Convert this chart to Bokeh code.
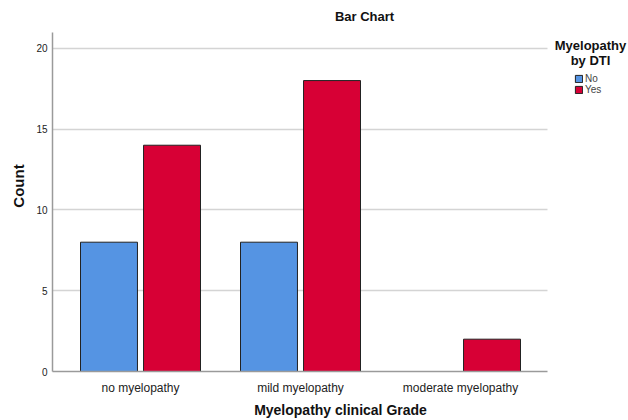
from bokeh.plotting import figure
from bokeh.models import ColumnDataSource, Range1d, Legend, LegendItem, Label, FixedTicker
from bokeh.embed import file_html
from bokeh.resources import INLINE

categories = ["no myelopathy", "mild myelopathy", "moderate myelopathy"]
count_no = [8, 8, 0]
count_yes = [14, 18, 2]
series_names = ["No", "Yes"]
colors = ["#5594e3", "#d70035"]
y_ticks = [0, 5, 10, 15, 20]

pos = list(range(len(categories)))
off = 0.197
bw = 0.356
src_no = ColumnDataSource(dict(x=[i - off for i, v in zip(pos, count_no) if v > 0],
                               val=[v for v in count_no if v > 0]))
src_yes = ColumnDataSource(dict(x=[i + off for i in pos], val=count_yes))

W, H = 628, 420
FL, FB = 52, 373
PX_X = 160.0   # px per category
PX_Y = 16.25   # px per count
x0 = -88 / PX_X
x1 = x0 + (W - FL) / PX_X
xr_end_axis = x0 + (547 - FL) / PX_X
y1 = FB / PX_Y
y_axis_top = (FB - 32) / PX_Y

p = figure(width=W, height=H, output_backend="svg", toolbar_location=None,
           x_range=Range1d(x0, x1), y_range=Range1d(0, y1))
p.min_border_left = FL
p.min_border_right = 0
p.min_border_top = 0
p.min_border_bottom = H - FB
p.outline_line_color = None
p.background_fill_color = "white"
p.title = None

r_no = p.vbar(x="x", top="val", width=bw, source=src_no,
              fill_color=colors[0], line_color="#222222", line_width=1)
r_yes = p.vbar(x="x", top="val", width=bw, source=src_yes,
               fill_color=colors[1], line_color="#222222", line_width=1)

p.xgrid.grid_line_color = None
p.ygrid.grid_line_color = "#d4d4d4"
p.ygrid.grid_line_width = 1.5
p.ygrid.cross_bounds = (x0, xr_end_axis)
p.yaxis.ticker = FixedTicker(ticks=y_ticks)
p.xaxis.ticker = FixedTicker(ticks=pos)
p.xaxis.major_label_overrides = {i: c for i, c in zip(pos, categories)}
p.xaxis.bounds = (x0, xr_end_axis)
p.yaxis.bounds = (0, y_axis_top)

for ax in (p.xaxis[0], p.yaxis[0]):
    ax.axis_line_color = "#9a9a9a"
    ax.axis_line_width = 1.5
    ax.major_tick_line_color = None
    ax.minor_tick_line_color = None
    ax.major_tick_out = 0
    ax.major_tick_in = 0
    ax.minor_tick_out = 0
    ax.minor_tick_in = 0
    ax.major_label_text_font = "Liberation Sans"
    ax.major_label_text_color = "#222222"
    ax.axis_label_text_font = "Liberation Sans"
    ax.axis_label_text_font_style = "bold"
    ax.axis_label_text_color = "#111111"

p.yaxis.major_label_text_font_size = "10px"
p.yaxis.major_label_standoff = 5
p.xaxis.major_label_text_font_size = "12px"
p.xaxis.major_label_standoff = 9
p.yaxis.axis_label = "Count"
p.yaxis.axis_label_text_font_size = "15px"
p.yaxis.axis_label_standoff = 6
p.xaxis.axis_label = "Myelopathy clinical Grade"
p.xaxis.axis_label_text_font_size = "14px"
p.xaxis.axis_label_standoff = 4

# Labels: screen coords relative to frame (x from left, y from bottom)
def lab(x, y, **kw):
    return Label(x=x - FL, y=FB - y, x_units="screen", y_units="screen",
                 text_font="Liberation Sans", text_color="#111111", **kw)

p.add_layout(lab(364, 18, text="Bar Chart", text_font_style="bold", text_font_size="13px",
                 text_align="center", text_baseline="middle"))
p.add_layout(lab(590, 39, text="Myelopathy\nby DTI", text_font_style="bold", text_font_size="13px",
                 text_align="center", text_baseline="top", text_line_height=1.0))

legend = Legend(items=[LegendItem(label=series_names[0], renderers=[r_no]),
                       LegendItem(label=series_names[1], renderers=[r_yes])],
                location=(574 - FL, FB - 97), orientation="vertical",
                padding=0, margin=0, spacing=0, glyph_width=9, glyph_height=9,
                label_text_font="Liberation Sans", label_text_font_size="10px",
                label_standoff=2, label_height=9,
                border_line_color=None, background_fill_alpha=0)
p.add_layout(legend, "center")

open("out.html", "w").write(file_html(p, INLINE))
